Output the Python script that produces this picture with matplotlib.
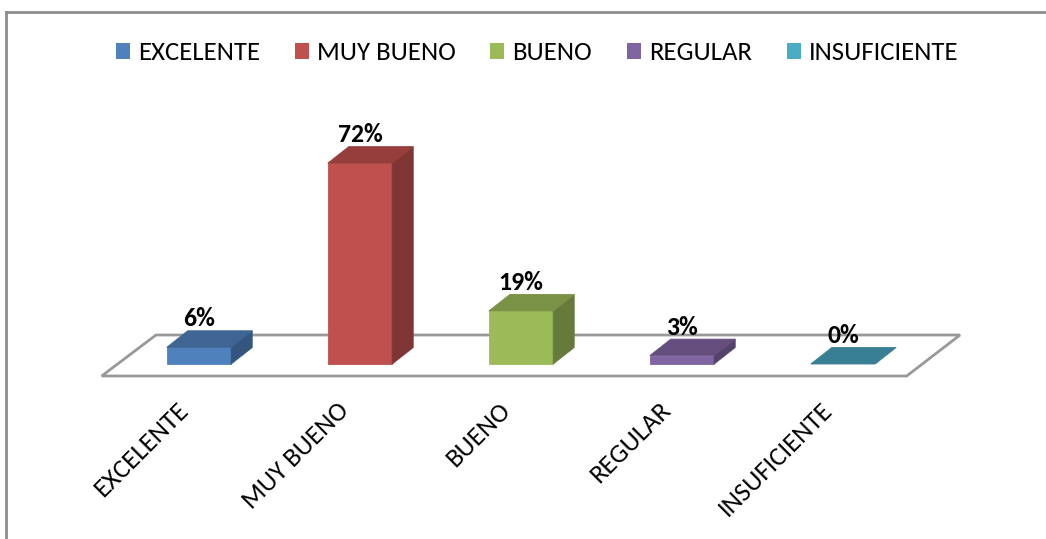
import matplotlib
matplotlib.use("Agg")
import matplotlib.pyplot as plt
from matplotlib.patches import Polygon, Rectangle
from matplotlib.lines import Line2D

categories = ["EXCELENTE", "MUY BUENO", "BUENO", "REGULAR", "INSUFICIENTE"]
values = [6, 72, 19, 3, 0]
labels = ["6%", "72%", "19%", "3%", "0%"]
colors = ["#4F81BD", "#C0504D", "#9BBB59", "#8064A2", "#4BACC6"]

plt.rcParams['font.family'] = ['Carlito', 'Lato', 'DejaVu Sans']

W, H = 1046, 539
fig = plt.figure(figsize=(W / 100, H / 100), dpi=100)
ax = fig.add_axes([0, 0, 1, 1])

# data coordinates: x = category index, y = percent (front plane of bars)
px0, pxs = 199.0, 161.0     # pixel x of category 0, pixels per category
py0, pys = 364.0, 2.79      # pixel y of 0%, pixels per percent
ax.set_xlim((0 - px0) / pxs, (W - px0) / pxs)
ax.set_ylim((py0 - H) / pys, (py0 - 0) / pys)
ax.axis("off")

def shade(c, f):
    r, g, b = matplotlib.colors.to_rgb(c)
    return (r * f, g * f, b * f)

# depth offsets in data units
ddx = 21.0 / pxs
ddy = 16.5 / pys
hw = 0.2

# floor
f_front = (py0 - 376.0) / pys
f_back = (py0 - 335.0) / pys
fl = [((101.7 - px0) / pxs, f_front), ((906.7 - px0) / pxs, f_front),
      ((960.0 - px0) / pxs, f_back), ((156.0 - px0) / pxs, f_back)]
ax.add_patch(Polygon(fl, closed=True, facecolor="white", edgecolor="#999999", lw=2.0, zorder=1))

for i, (v, c, lab) in enumerate(zip(values, colors, labels)):
    x0, x1 = i - hw, i + hw
    if v > 0:
        front = Rectangle((x0, 0), x1 - x0, v, facecolor=c, edgecolor=shade(c, 1.0), lw=0.6, zorder=3)
        ax.add_patch(front)
        side = [(x1, 0), (x1 + ddx, ddy), (x1 + ddx, v + ddy), (x1, v)]
        ax.add_patch(Polygon(side, closed=True, facecolor=shade(c, 0.66), edgecolor=shade(c, 0.66), lw=0.6, zorder=3))
    top = [(x0, v), (x1, v), (x1 + ddx, v + ddy), (x0 + ddx, v + ddy)]
    ax.add_patch(Polygon(top, closed=True, facecolor=shade(c, 0.78 if v > 0 else 0.74),
                         edgecolor=shade(c, 0.78 if v > 0 else 0.74), lw=0.6, zorder=3))
    ax.text(i, v + ddy + 0.1, lab, ha="center", va="bottom", fontsize=18.5, fontweight="bold", zorder=4)
    # category label, rotated 45, anchored at top-right
    tx = i - 23.0 / pxs
    ty = (py0 - 398.0) / pys
    ax.text(tx, ty, categories[i], rotation=45, rotation_mode="anchor", ha="right", va="top",
            fontsize=19.3, zorder=4)

# frame
ax.add_line(Line2D([(6 - px0) / pxs, (6 - px0) / pxs], [(py0 - 12) / pys, (py0 - H - 5) / pys],
                   color="#8C8C8C", lw=2.0))
ax.add_line(Line2D([(6 - px0) / pxs, (W + 5 - px0) / pxs], [(py0 - 12) / pys, (py0 - 12) / pys],
                   color="#8C8C8C", lw=2.0))

handles = [Rectangle((0, 0), 1, 1, facecolor=c, edgecolor="none") for c in colors]
fig.legend(handles, categories, loc="center", bbox_to_anchor=(537 / W, 1 - 53 / H), ncol=5,
           frameon=False, fontsize=19.3, handlelength=0.52, handleheight=0.52, handletextpad=0.3,
           columnspacing=1.3)

fig.savefig("out.png", dpi=100)
